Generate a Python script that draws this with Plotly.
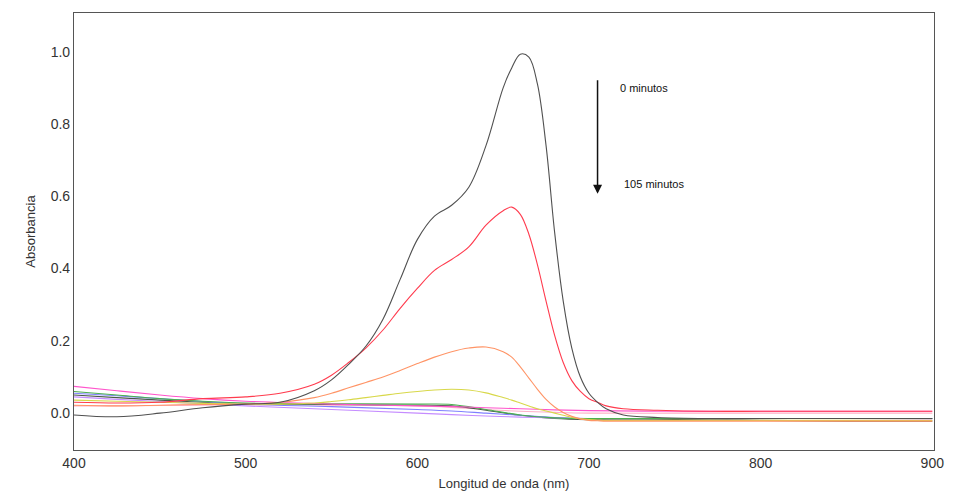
import plotly.graph_objects as go

# Wavelength grid (nm) for the peaked spectra
wl = [400, 425, 450, 475, 500, 520, 540, 550, 560, 570, 580, 590, 600, 610, 620, 630,
      640, 650, 655, 660, 665, 670, 675, 680, 685, 690, 695, 700, 705, 710, 720, 740,
      770, 800, 850, 900]

abs_0min = [-0.005, -0.01, 0.0, 0.015, 0.025, 0.03, 0.062, 0.092, 0.135, 0.185, 0.26, 0.37,
            0.48, 0.545, 0.575, 0.625, 0.74, 0.90, 0.955, 0.993, 0.985, 0.91, 0.74, 0.50,
            0.31, 0.18, 0.10, 0.055, 0.03, 0.012, -0.005, -0.012, -0.015, -0.015, -0.015, -0.015]

abs_red = [0.03, 0.028, 0.03, 0.04, 0.045, 0.055, 0.08, 0.105, 0.14, 0.18, 0.23, 0.29,
           0.345, 0.395, 0.425, 0.46, 0.52, 0.56, 0.57, 0.55, 0.495, 0.41, 0.31, 0.215,
           0.14, 0.09, 0.06, 0.04, 0.03, 0.02, 0.012, 0.008, 0.005, 0.005, 0.005, 0.005]

abs_orange = [0.022, 0.02, 0.022, 0.024, 0.025, 0.03, 0.043, 0.055, 0.07, 0.085, 0.1, 0.118,
              0.137, 0.155, 0.17, 0.18, 0.183, 0.17, 0.155, 0.128, 0.097, 0.066, 0.038, 0.017,
              0.002, -0.009, -0.016, -0.02, -0.021, -0.022, -0.022, -0.022, -0.022, -0.022, -0.022, -0.022]

abs_yellow = [0.036, 0.033, 0.03, 0.027, 0.025, 0.025, 0.028, 0.032, 0.037, 0.043, 0.049, 0.055,
              0.06, 0.064, 0.066, 0.064, 0.056, 0.043, 0.036, 0.028, 0.02, 0.012, 0.006, 0.0,
              -0.006, -0.012, -0.016, -0.018, -0.019, -0.02, -0.02, -0.02, -0.02, -0.02, -0.02, -0.02]

# Flat spectra (fewer points)
wl_flat = [400, 425, 450, 475, 500, 550, 600, 620, 640, 660, 680, 700, 750, 800, 850, 900]
abs_green = [0.06, 0.05, 0.04, 0.033, 0.028, 0.026, 0.025, 0.024, 0.01, -0.005, -0.013, -0.015,
             -0.015, -0.015, -0.015, -0.015]
abs_blue = [0.055, 0.048, 0.04, 0.032, 0.025, 0.018, 0.01, 0.006, 0.0, -0.006, -0.012, -0.015,
            -0.015, -0.015, -0.015, -0.015]
abs_purple = [0.045, 0.038, 0.032, 0.026, 0.02, 0.01, 0.0, -0.004, -0.008, -0.011, -0.013, -0.015,
              -0.015, -0.015, -0.015, -0.016]
abs_magenta = [0.074, 0.062, 0.05, 0.04, 0.033, 0.025, 0.02, 0.018, 0.015, 0.012, 0.009, 0.007,
               0.005, 0.005, 0.005, 0.005]
abs_pink = [0.02, 0.02, 0.021, 0.022, 0.023, 0.022, 0.02, 0.016, 0.01, 0.005, 0.002, 0.0,
            0.0, 0.0, 0.0, 0.0]
abs_dark = [0.05, 0.043, 0.036, 0.03, 0.026, 0.024, 0.022, 0.02, 0.008, -0.006, -0.015, -0.018,
            -0.018, -0.02, -0.022, -0.022]

series = [
    (wl_flat, abs_pink, "#ffb0c8"),
    (wl_flat, abs_dark, "#4a5a4a"),
    (wl_flat, abs_purple, "#c58cff"),
    (wl_flat, abs_blue, "#8080ff"),
    (wl_flat, abs_green, "#4caf50"),
    (wl_flat, abs_magenta, "#ff55cc"),
    (wl, abs_yellow, "#d8d84a"),
    (wl, abs_orange, "#ff9466"),
    (wl, abs_red, "#ff3b4e"),
    (wl, abs_0min, "#505050"),
]

fig = go.Figure()
for x, y, c in series:
    fig.add_trace(go.Scatter(x=x, y=y, mode="lines",
                             line=dict(color=c, width=1.1, shape="spline", smoothing=1.0),
                             showlegend=False, hoverinfo="skip"))

font_family = "Liberation Sans, Arial, sans-serif"

fig.add_annotation(x=705, y=0.607, ax=705, ay=0.925, xref="x", yref="y", axref="x", ayref="y",
                   showarrow=True, arrowhead=2, arrowsize=1.2, arrowwidth=1.5, arrowcolor="#111", text="")
fig.add_annotation(x=717, y=0.90, xref="x", yref="y", text="0 minutos", showarrow=False,
                   xanchor="left", font=dict(family=font_family, size=11, color="#111"))
fig.add_annotation(x=719, y=0.634, xref="x", yref="y", text="105 minutos", showarrow=False,
                   xanchor="left", font=dict(family=font_family, size=11, color="#111"))

fig.update_layout(
    width=956, height=500,
    margin=dict(l=74, r=16, t=13, b=48),
    paper_bgcolor="white", plot_bgcolor="white",
    font=dict(family=font_family, size=14, color="#333"),
)
fig.update_xaxes(range=[400, 901], tickvals=[400, 500, 600, 700, 800, 900],
                 showgrid=False, zeroline=False, showline=True, linecolor="#555", linewidth=1.2,
                 mirror=True, ticks="", title=dict(text="Longitud de onda (nm)", font=dict(size=13), standoff=8))
fig.update_yaxes(range=[-0.102, 1.107], tickvals=[0, 0.2, 0.4, 0.6, 0.8, 1.0], tickformat=".1f",
                 showgrid=False, zeroline=False, showline=True, linecolor="#555", linewidth=1.2,
                 mirror=True, ticks="", title=dict(text="Absorbancia", font=dict(size=13), standoff=12))

fig.write_html("out.html", config={"displayModeBar": False},
               post_script="document.body.style.margin='0';")
